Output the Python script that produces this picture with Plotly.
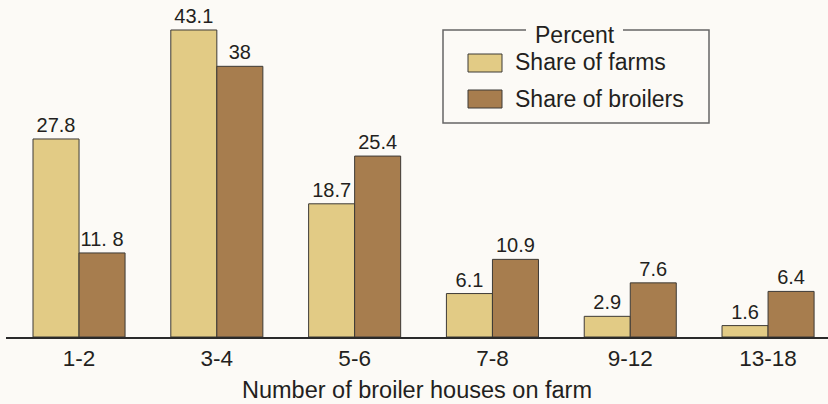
import plotly.graph_objects as go

categories = ["1-2", "3-4", "5-6", "7-8", "9-12", "13-18"]
share_of_farms = [27.8, 43.1, 18.7, 6.1, 2.9, 1.6]
share_of_broilers = [11.8, 38, 25.4, 10.9, 7.6, 6.4]
farm_labels = ["27.8", "43.1", "18.7", "6.1", "2.9", "1.6"]
broiler_labels = ["11. 8", "38", "25.4", "10.9", "7.6", "6.4"]

W, H = 828, 404
ML, MR, MT, MB = 6, 0, 0, 67
PW, PH = W - ML - MR, H - MT - MB

FARM_C = "#E2CB85"
BROIL_C = "#A77D4E"
EDGE_C = "#3d3a36"
TXT_C = "#231F20"
BG = "#FCFAF6"
FONT = "Liberation Sans, Arial, Helvetica, sans-serif"


def px_x(x):
    return (x - ML) / PW


def px_y(y):
    return (H - MB - y) / PH


fig = go.Figure()
fig.add_trace(go.Bar(
    x=categories, y=share_of_farms, name="Share of farms",
    marker=dict(color=FARM_C, line=dict(color=EDGE_C, width=1)),
    text=farm_labels, textposition="outside", constraintext="none",
    cliponaxis=False, textfont=dict(size=20, color=TXT_C, family=FONT),
    showlegend=False,
))
fig.add_trace(go.Bar(
    x=categories, y=share_of_broilers, name="Share of broilers",
    marker=dict(color=BROIL_C, line=dict(color=EDGE_C, width=1)),
    text=broiler_labels, textposition="outside", constraintext="none",
    cliponaxis=False, textfont=dict(size=20, color=TXT_C, family=FONT),
    showlegend=False,
))

# Custom legend box (frame with a gap for the title)
lx0, lx1, ly0, ly1 = 443, 709, 30, 123
gap0, gap1 = 526, 623
path = (f"M {px_x(gap0)},{px_y(ly0)} L {px_x(lx0)},{px_y(ly0)} L {px_x(lx0)},{px_y(ly1)} "
        f"L {px_x(lx1)},{px_y(ly1)} L {px_x(lx1)},{px_y(ly0)} L {px_x(gap1)},{px_y(ly0)}")
shapes = [
    dict(type="path", path=path, xref="paper", yref="paper",
         line=dict(color="#666666", width=1.5)),
    dict(type="rect", xref="paper", yref="paper",
         x0=px_x(468), x1=px_x(502), y0=px_y(54), y1=px_y(72),
         fillcolor=FARM_C, line=dict(color=EDGE_C, width=1)),
    dict(type="rect", xref="paper", yref="paper",
         x0=px_x(468), x1=px_x(502), y0=px_y(90), y1=px_y(108),
         fillcolor=BROIL_C, line=dict(color=EDGE_C, width=1)),
]
annotations = [
    dict(text="Percent", xref="paper", yref="paper", x=px_x(574.5), y=px_y(35),
         xanchor="center", yanchor="middle", showarrow=False,
         font=dict(size=23, color=TXT_C, family=FONT)),
    dict(text="Share of farms", xref="paper", yref="paper", x=px_x(513), y=px_y(62),
         xanchor="left", yanchor="middle", showarrow=False,
         font=dict(size=23, color=TXT_C, family=FONT)),
    dict(text="Share of broilers", xref="paper", yref="paper", x=px_x(513), y=px_y(99),
         xanchor="left", yanchor="middle", showarrow=False,
         font=dict(size=23, color=TXT_C, family=FONT)),
]

fig.update_layout(
    width=W, height=H,
    margin=dict(l=ML, r=MR, t=MT, b=MB, pad=0),
    paper_bgcolor=BG, plot_bgcolor=BG,
    barmode="group", bargap=0.332, bargroupgap=0,
    font=dict(family=FONT, color=TXT_C),
    shapes=shapes, annotations=annotations,
    xaxis=dict(
        range=[-0.53, 5.435], showgrid=False, zeroline=False,
        showline=True, linecolor="#2a2a2a", linewidth=1.5,
        ticks="", tickfont=dict(size=22.5, color=TXT_C, family=FONT),
        title=dict(text="Number of broiler houses on farm",
                   font=dict(size=23.5, color=TXT_C, family=FONT), standoff=12),
    ),
    yaxis=dict(range=[0, 47.31], visible=False, showgrid=False, zeroline=False),
)

fig.write_html(
    "out.html",
    config={"displayModeBar": False},
    post_script="document.body.style.margin='0';document.body.style.overflow='hidden';",
)
